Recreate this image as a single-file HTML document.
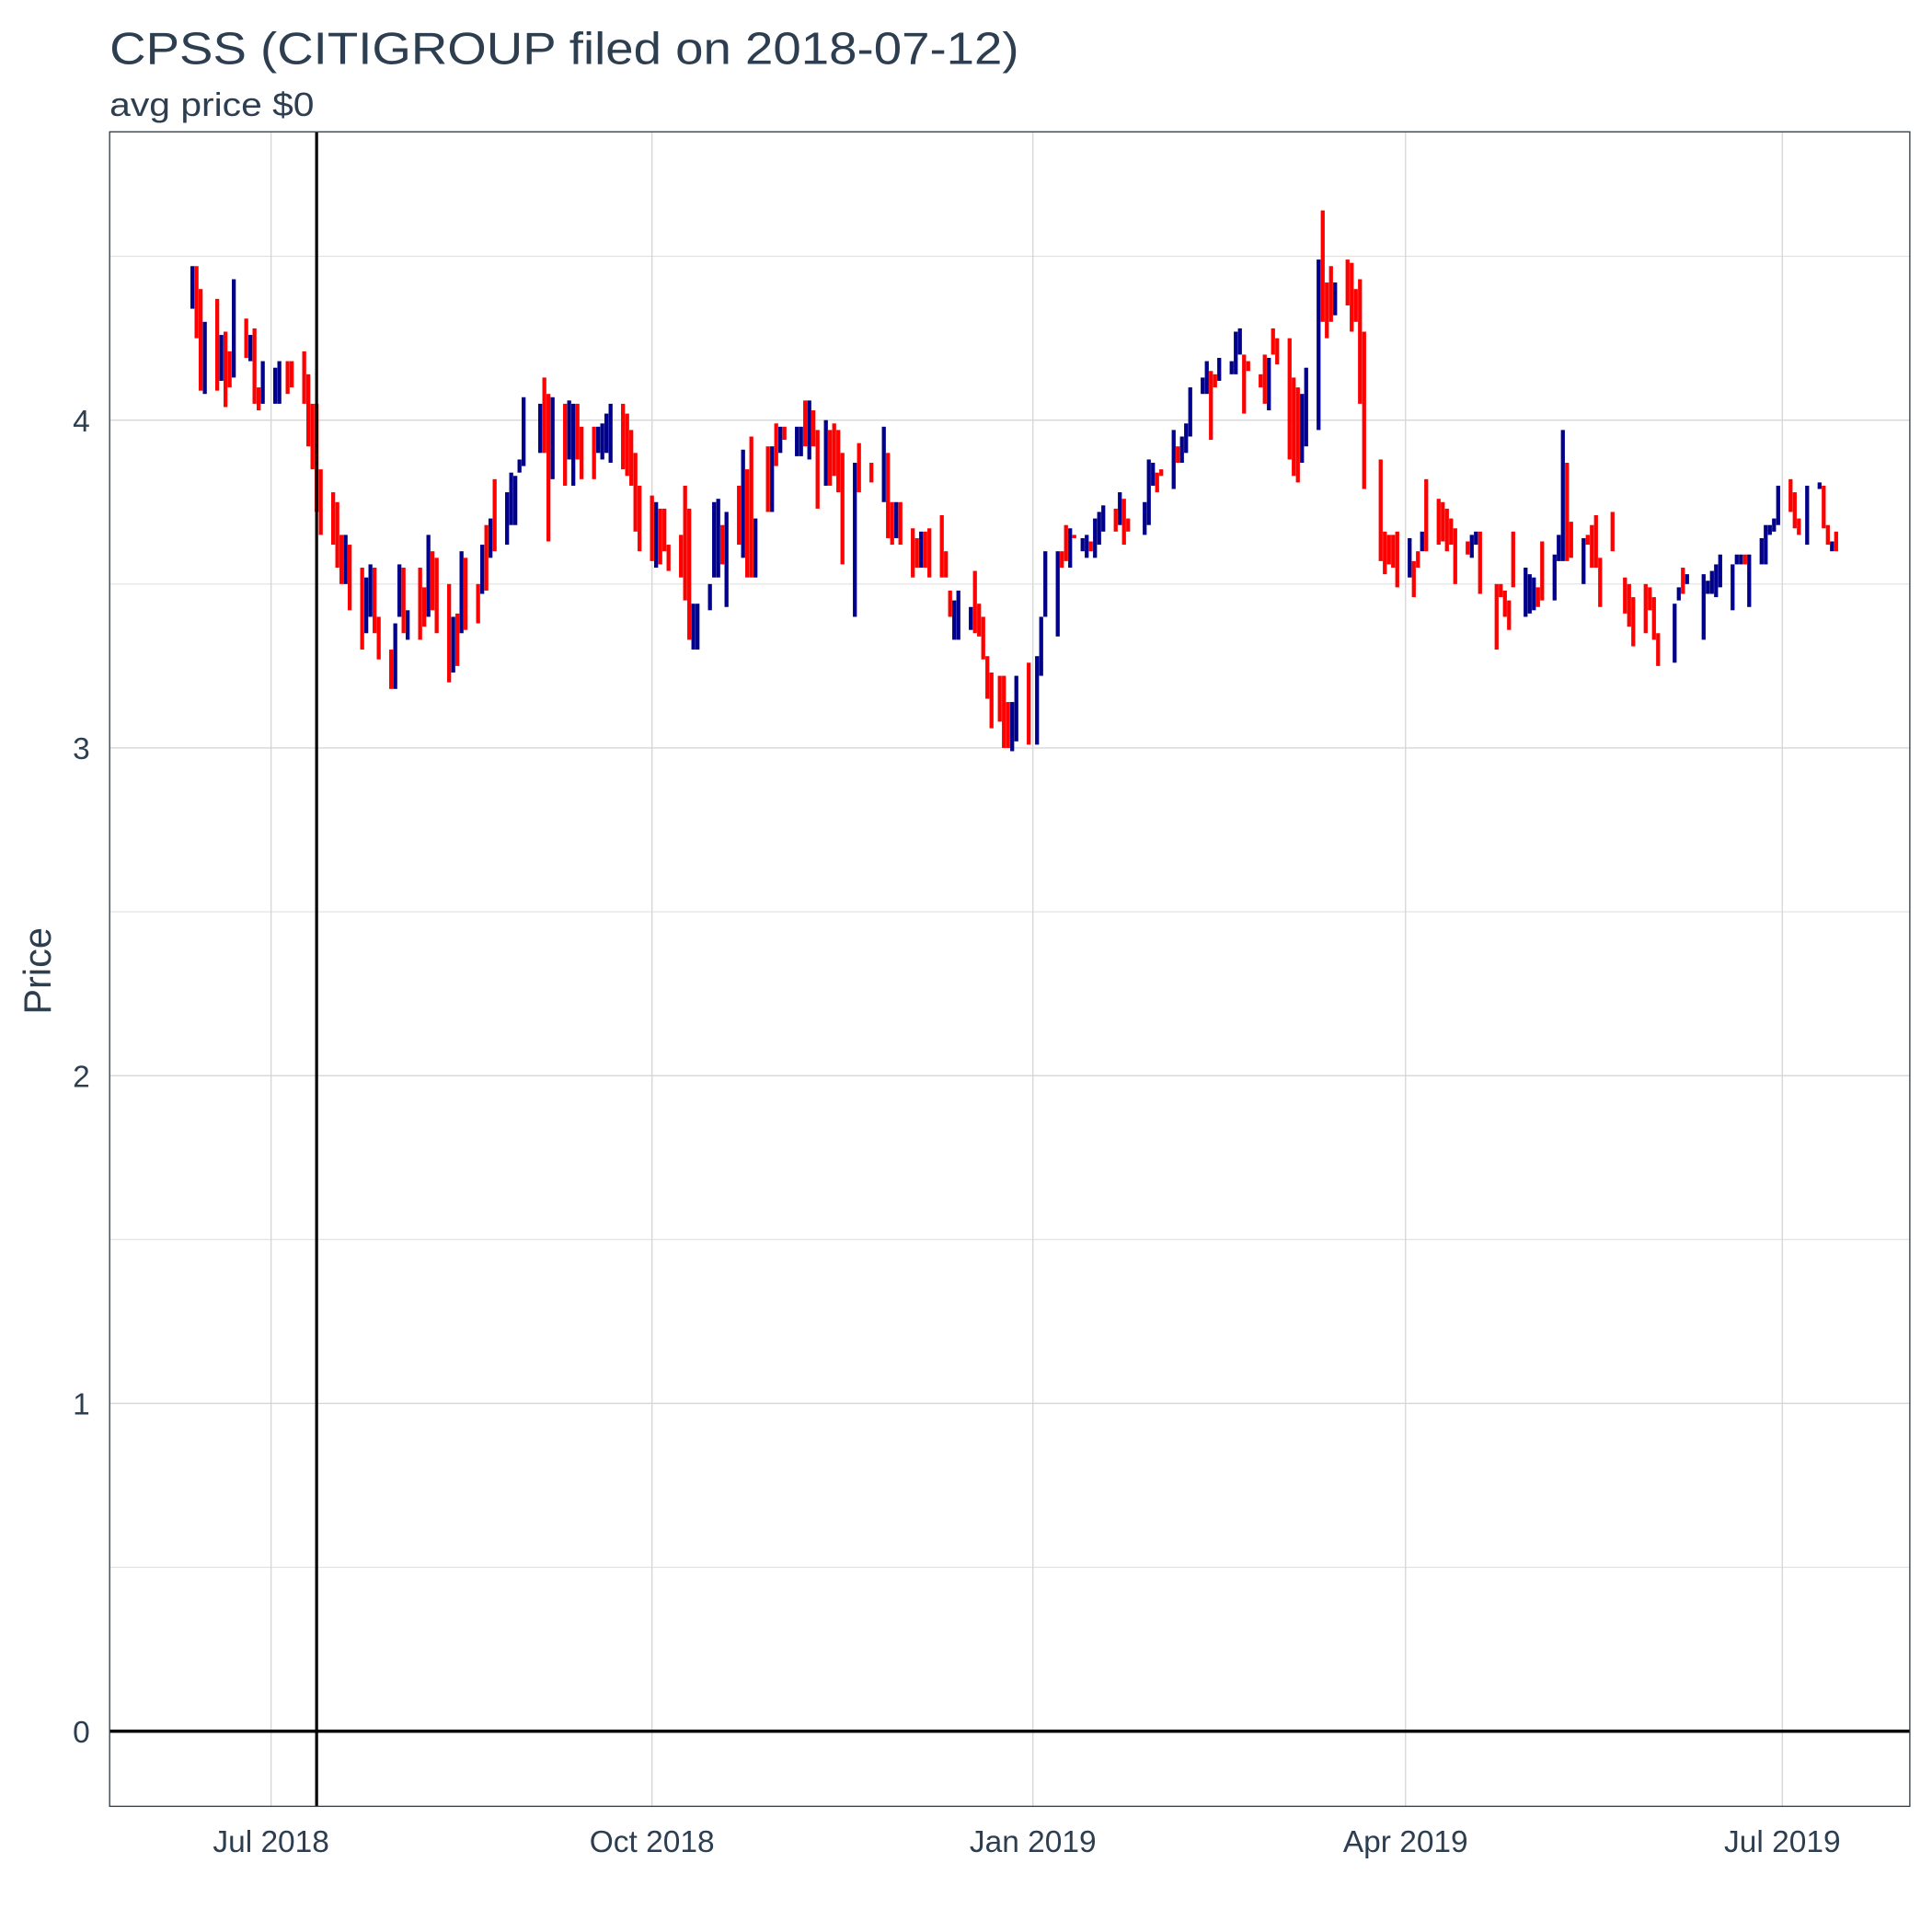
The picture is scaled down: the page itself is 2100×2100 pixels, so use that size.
<!DOCTYPE html>
<html><head><meta charset="utf-8"><style>
html,body{margin:0;padding:0;background:#fff;}
svg{display:block;font-family:"Liberation Sans",sans-serif;}
</style></head><body>
<svg id="chart" width="2100" height="2100" viewBox="0 0 1568 1568" xmlns="http://www.w3.org/2000/svg">
<rect width="1568" height="1568" fill="#fff"/>
<text x="89" y="52" font-size="37" fill="#2c3e50" textLength="738" lengthAdjust="spacingAndGlyphs">CPSS (CITIGROUP filed on 2018-07-12)</text>
<text x="89" y="94" font-size="27" fill="#2c3e50" textLength="166" lengthAdjust="spacingAndGlyphs">avg price $0</text>
<text transform="translate(41,788) rotate(-90)" text-anchor="middle" font-size="31" fill="#2c3e50">Price</text>
<g id="grid"></g>
<g id="bars"></g>
<g id="refs"></g>
<rect x="89" y="107" width="1461" height="1359" fill="none" stroke="#2c3e50" stroke-width="1"/>
<g id="axes"></g>
</svg>
<script>
const days = [-19,-18,-17,-16,-13,-12,-11,-10,-9,-6,-5,-4,-3,-2,1,2,4,5,8,9,10,11,12,15,16,17,18,19,22,23,24,25,26,29,30,31,32,33,36,37,38,39,40,43,44,45,46,47,50,51,52,53,54,57,58,59,60,61,65,66,67,68,71,72,73,74,75,78,79,80,81,82,85,86,87,88,89,92,93,94,95,96,99,100,101,102,103,106,107,108,109,110,113,114,115,116,117,120,121,122,123,124,127,128,129,130,131,132,134,135,136,137,138,141,142,145,148,149,150,151,152,155,156,157,158,159,162,163,164,165,166,169,170,171,172,173,174,176,177,178,179,180,183,185,186,187,190,191,192,193,194,196,197,198,199,200,201,204,205,206,207,211,212,213,214,215,218,219,220,221,222,225,226,227,228,229,232,233,234,235,236,239,240,241,242,243,246,247,248,249,250,253,254,255,256,257,260,261,262,263,264,268,269,270,271,272,275,276,277,278,279,282,283,284,285,286,289,290,291,292,296,297,298,299,300,303,304,305,306,307,310,311,312,313,314,317,318,319,320,321,324,327,328,329,332,333,334,335,339,340,341,342,346,347,348,349,350,353,354,355,356,357,360,361,362,363,364,367,368,369,371,374,375,376,377,378];
const highs = [4.47,4.47,4.40,4.30,4.37,4.26,4.27,4.21,4.43,4.31,4.26,4.28,4.10,4.18,4.16,4.18,4.18,4.18,4.21,4.14,4.05,4.05,3.85,3.78,3.75,3.65,3.65,3.62,3.55,3.52,3.56,3.55,3.40,3.30,3.38,3.56,3.55,3.42,3.55,3.49,3.65,3.60,3.58,3.50,3.40,3.41,3.60,3.58,3.50,3.62,3.68,3.70,3.82,3.78,3.84,3.83,3.88,4.07,4.05,4.13,4.08,4.07,4.05,4.06,4.05,4.05,3.98,3.98,3.98,3.99,4.02,4.05,4.05,4.02,3.97,3.90,3.80,3.77,3.75,3.73,3.73,3.62,3.65,3.80,3.73,3.44,3.44,3.50,3.75,3.76,3.68,3.72,3.80,3.91,3.85,3.95,3.70,3.92,3.92,3.99,3.98,3.98,3.98,3.98,4.06,4.06,4.03,3.97,4.00,3.97,3.99,3.97,3.90,3.87,3.93,3.87,3.98,3.90,3.75,3.75,3.75,3.67,3.64,3.66,3.66,3.67,3.71,3.60,3.48,3.45,3.48,3.43,3.54,3.44,3.40,3.28,3.23,3.22,3.22,3.14,3.14,3.22,3.26,3.28,3.40,3.60,3.60,3.60,3.68,3.67,3.65,3.64,3.65,3.63,3.70,3.72,3.74,3.73,3.78,3.76,3.70,3.75,3.88,3.87,3.84,3.85,3.97,3.92,3.95,3.99,4.10,4.13,4.18,4.15,4.14,4.19,4.18,4.27,4.28,4.20,4.18,4.14,4.20,4.19,4.28,4.25,4.25,4.13,4.10,4.08,4.16,4.49,4.64,4.42,4.47,4.42,4.49,4.48,4.40,4.43,4.27,3.88,3.66,3.65,3.65,3.66,3.64,3.57,3.60,3.66,3.82,3.76,3.75,3.73,3.70,3.67,3.63,3.65,3.66,3.66,3.50,3.50,3.48,3.45,3.66,3.55,3.53,3.52,3.49,3.63,3.59,3.65,3.97,3.87,3.69,3.64,3.65,3.68,3.71,3.58,3.72,3.52,3.50,3.46,3.50,3.49,3.46,3.35,3.44,3.49,3.55,3.53,3.53,3.51,3.54,3.56,3.59,3.56,3.59,3.59,3.59,3.59,3.64,3.68,3.68,3.70,3.80,3.82,3.78,3.70,3.80,3.81,3.80,3.68,3.63,3.66];
const lows = [4.34,4.25,4.09,4.08,4.09,4.12,4.04,4.10,4.13,4.19,4.18,4.05,4.03,4.05,4.05,4.05,4.08,4.10,4.05,3.92,3.85,3.72,3.65,3.62,3.55,3.50,3.50,3.42,3.30,3.35,3.40,3.35,3.27,3.18,3.18,3.40,3.35,3.33,3.33,3.37,3.40,3.42,3.35,3.20,3.23,3.25,3.35,3.36,3.38,3.47,3.48,3.58,3.60,3.62,3.68,3.68,3.84,3.86,3.90,3.90,3.63,3.82,3.80,3.88,3.80,3.88,3.82,3.82,3.90,3.88,3.90,3.87,3.85,3.83,3.80,3.66,3.60,3.57,3.55,3.56,3.60,3.54,3.52,3.45,3.33,3.30,3.30,3.42,3.52,3.52,3.56,3.43,3.62,3.58,3.52,3.52,3.52,3.72,3.72,3.86,3.90,3.94,3.89,3.89,3.92,3.88,3.92,3.73,3.80,3.80,3.83,3.78,3.56,3.40,3.78,3.81,3.75,3.64,3.62,3.64,3.62,3.52,3.55,3.55,3.55,3.52,3.52,3.52,3.40,3.33,3.33,3.36,3.35,3.34,3.27,3.15,3.06,3.08,3.00,3.00,2.99,3.02,3.01,3.01,3.22,3.40,3.34,3.55,3.57,3.55,3.64,3.60,3.58,3.60,3.58,3.62,3.66,3.66,3.68,3.62,3.66,3.65,3.68,3.80,3.78,3.83,3.79,3.87,3.87,3.90,3.95,4.08,4.08,3.94,4.10,4.12,4.14,4.14,4.20,4.02,4.15,4.10,4.05,4.03,4.20,4.17,3.88,3.83,3.81,3.87,3.92,3.97,4.30,4.25,4.30,4.32,4.35,4.27,4.30,4.05,3.79,3.57,3.53,3.56,3.55,3.49,3.52,3.46,3.55,3.60,3.60,3.62,3.63,3.60,3.62,3.50,3.59,3.58,3.62,3.47,3.30,3.46,3.40,3.36,3.49,3.40,3.41,3.42,3.43,3.45,3.45,3.57,3.57,3.57,3.58,3.50,3.62,3.55,3.55,3.43,3.60,3.41,3.37,3.31,3.35,3.42,3.33,3.25,3.26,3.45,3.47,3.50,3.33,3.47,3.47,3.46,3.49,3.42,3.56,3.56,3.56,3.43,3.56,3.56,3.65,3.66,3.68,3.72,3.67,3.65,3.62,3.79,3.67,3.62,3.60,3.60];
const dirs = [
 "N","R","R","N","R","N","R","R","N","R","N","R","R","N","N","N","R","R","R","R",
 "R","R","R","R","R","R","N","R","R","N","N","R","R","R","N","N","R","N","R","R",
 "N","R","R","R","N","R","N","R","R","N","R","N","R","N","N","N","N","N","N","R",
 "R","N","R","N","N","R","R","R","N","N","N","N","R","R","R","R","R","R","N","R",
 "R","R","R","R","R","N","N","N","N","N","R","N","R","N","R","R","N","R","N","R",
 "N","R","N","N","R","N","R","R","N","R","R","R","R","N","R","R","N","R","R","N",
 "R","R","R","N","R","R","R","R","R","N","N","N","R","R","R","R","R","R","R","R",
 "N","N","R","N","N","N","N","R","R","N","R","N","N","R","N","N","N","R","N","R",
 "R","N","N","N","R","R","N","R","N","N","N","N","N","R","R","N","N","N","N","R",
 "R","R","R","N","R","R","R","R","R","N","N","N","R","R","R","N","R","R","R","R",
 "R","R","R","R","R","R","N","R","R","N","R","R","R","R","R","R","R","N","N","R",
 "R","R","R","R","R","N","N","N","R","R","N","N","N","R","R","N","R","R","R","R",
 "R","R","R","R","R","R","R","R","N","N","R","N","N","N","N","N","N","N","N","N",
 "R","N","N","N","N","N","N","R","R","R","N","N","R","R","N","R"];
const yTicks = [0,1,2,3,4];
const xTickDays = [0,92,184,274,365];
const xTickLabels = ["Jul 2018","Oct 2018","Jan 2019","Apr 2019","Jul 2019"];
const filingDay = 11;

const NS = "http://www.w3.org/2000/svg";
const X0 = 89, X1 = 1550, Y0 = 107, Y1 = 1466;
function xs(d){ return 220 + d * 3.3603; }
function ys(v){ return 1405 - v * 266; }
function mk(tag, attrs, parent){
  const e = document.createElementNS(NS, tag);
  for (const k in attrs) e.setAttribute(k, attrs[k]);
  parent.appendChild(e); return e;
}
const grid = document.getElementById('grid');
const bars = document.getElementById('bars');
const refs = document.getElementById('refs');
const axes = document.getElementById('axes');

for (let i = 0; i < yTicks.length; i++) {
  const v = yTicks[i] + 0.5;
  const l = mk('line', {x1:X0, x2:X1, y1:ys(v), y2:ys(v), stroke:'#e0e0e0', 'stroke-width':0.8}, grid);
  
  
}
yTicks.forEach(v => {
  const l = mk('line', {x1:X0, x2:X1, y1:ys(v), y2:ys(v), stroke:'#d6d6d6', 'stroke-width':1}, grid);
  
  
  const t = mk('text', {x:73, y:ys(v)+9, 'text-anchor':'end', 'font-size':25, fill:'#2c3e50'}, axes);
  t.textContent = v;
  
  
});
xTickDays.forEach((d, i) => {
  const l = mk('line', {x1:xs(d), x2:xs(d), y1:Y0, y2:Y1, stroke:'#d6d6d6', 'stroke-width':1}, grid);
  
  
  const t = mk('text', {x:xs(d), y:1503, 'text-anchor':'middle', 'font-size':25, fill:'#2c3e50'}, axes);
  t.textContent = xTickLabels[i];
  
  
});
for (let i = 0; i < days.length; i++) {
  const up = dirs[i] === 'N';
  const lo = Math.min(lows[i], highs[i]), hi = Math.max(lows[i], highs[i]);
  const r = mk('rect', {x:xs(days[i]) - 1.6, y:ys(hi), width:3.2, height:Math.max(1.5, ys(lo) - ys(hi)), fill: up ? '#00008b' : '#ff0000'}, bars);
  
  
}
const zl = mk('line', {x1:X0, x2:X1, y1:ys(0), y2:ys(0), stroke:'#000', 'stroke-width':2.6}, refs);


const fl = mk('line', {x1:xs(filingDay), x2:xs(filingDay), y1:Y0, y2:Y1, stroke:'#000', 'stroke-width':2.4}, refs);


</script>
</body></html>
